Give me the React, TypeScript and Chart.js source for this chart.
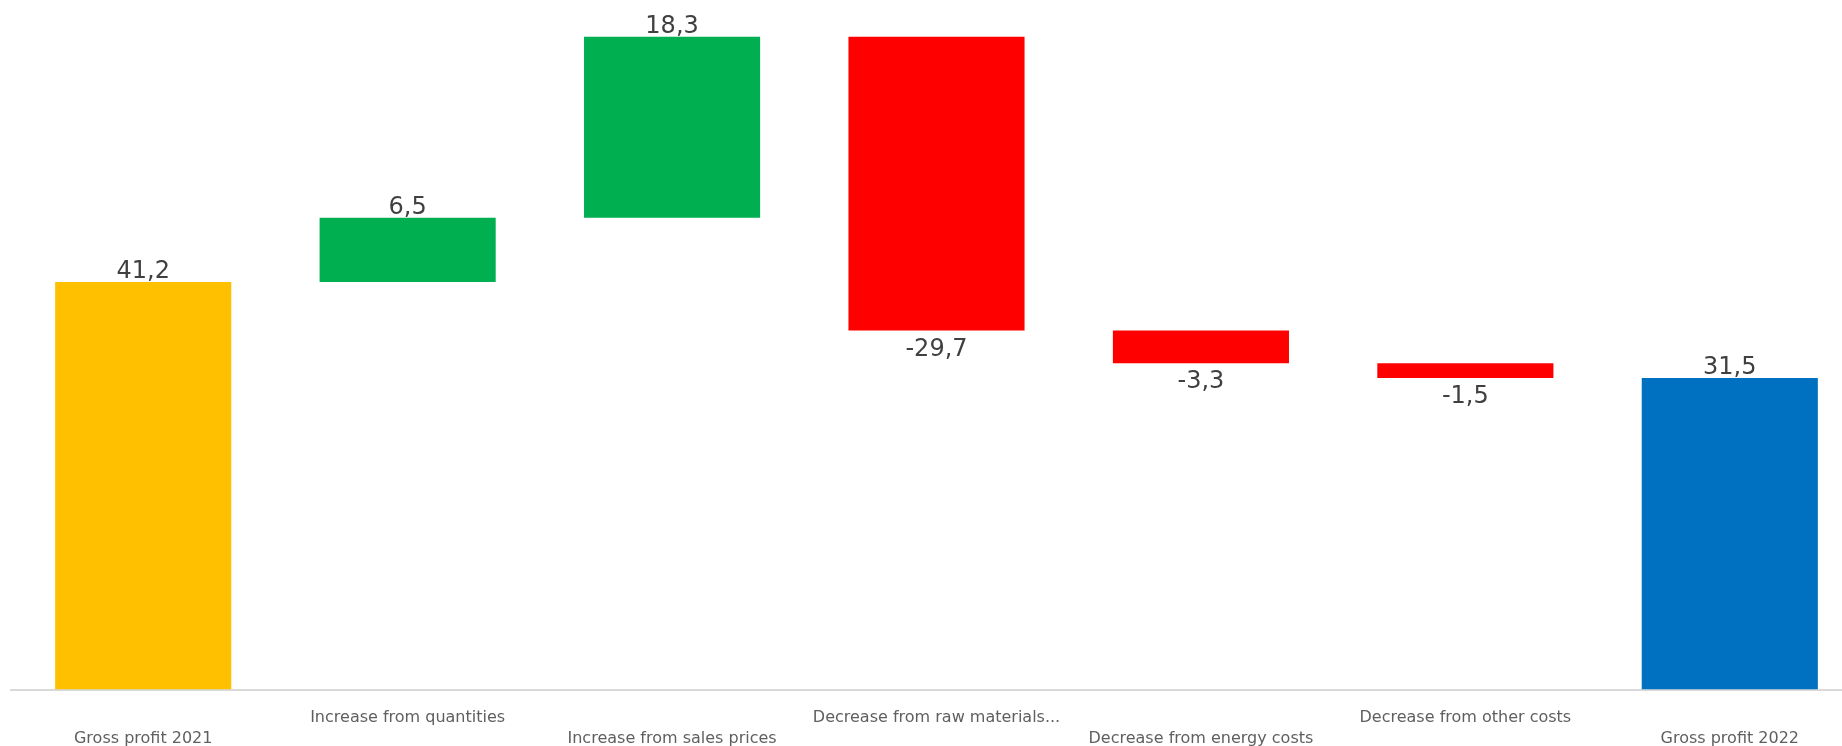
import React, { useEffect, useRef } from "react";
import { Chart, registerables } from "chart.js";

Chart.register(...registerables);

const categories = [
  "Gross profit 2021",
  "Increase from quantities",
  "Increase from sales prices",
  "Decrease from raw materials...",
  "Decrease from energy costs",
  "Decrease from other costs",
  "Gross profit 2022",
];
const values = [41.2, 6.5, 18.3, -29.7, -3.3, -1.5, 31.5];
const kinds = ["total", "delta", "delta", "delta", "delta", "delta", "total"];
const colorTotalStart = "#FFC000";
const colorTotalEnd = "#0070C0";
const colorUp = "#00B050";
const colorDown = "#FF0000";

function buildRanges(): [number, number][] {
  const out: [number, number][] = [];
  let running = 0;
  values.forEach((v, i) => {
    if (kinds[i] === "total") {
      out.push([0, v]);
      running = v;
    } else {
      out.push([running, running + v]);
      running += v;
    }
  });
  return out;
}

function fmt(v: number) {
  return v.toFixed(1).replace(".", ",");
}

const labelPlugin = {
  id: "wfLabels",
  afterDatasetsDraw(chart: any) {
    const ctx = chart.ctx;
    const meta = chart.getDatasetMeta(0);
    ctx.save();
    ctx.font = "24px 'DejaVu Sans'";
    ctx.fillStyle = "#404040";
    ctx.textAlign = "center";
    ctx.textBaseline = "alphabetic";
    meta.data.forEach((bar: any, i: number) => {
      const v = values[i];
      const top = Math.min(bar.y, bar.base);
      const bottom = Math.max(bar.y, bar.base);
      if (v >= 0) {
        ctx.fillText(fmt(v), bar.x, top - 4);
      } else {
        ctx.fillText(fmt(v), bar.x, bottom + 25);
      }
    });
    ctx.restore();
  },
};

export default function App() {
  const ref = useRef<HTMLCanvasElement | null>(null);
  useEffect(() => {
    if (!ref.current) return;
    const ranges = buildRanges();
    const colors = values.map((v, i) =>
      kinds[i] === "total" ? (i === 0 ? colorTotalStart : colorTotalEnd) : v >= 0 ? colorUp : colorDown
    );
    const chart = new Chart(ref.current, {
      type: "bar",
      data: {
        labels: categories,
        datasets: [
          {
            data: ranges as any,
            backgroundColor: colors,
            borderWidth: 0,
            categoryPercentage: 1,
            barPercentage: 0.666,
          },
        ],
      },
      options: {
        animation: false,
        responsive: false,
        maintainAspectRatio: false,
        layout: { padding: { left: 11, right: 0, top: 17, bottom: 11.5 } },
        plugins: { legend: { display: false }, tooltip: { enabled: false } },
        scales: {
          x: {
            grid: { display: false, drawTicks: false },
            border: { display: true, color: "#d9d9d9", width: 2 },
            ticks: {
              autoSkip: false,
              maxRotation: 0,
              minRotation: 0,
              padding: 17.5,
              color: "#5f5f5f",
              font: { family: "'DejaVu Sans'", size: 16, lineHeight: 1.3125 },
              callback: (_v: any, i: number) => (i % 2 === 0 ? ["", categories[i]] : categories[i]),
            },
          },
          y: {
            display: false,
            min: 0,
            max: 68,
          },
        },
      },
      plugins: [labelPlugin],
    });
    return () => chart.destroy();
  }, []);
  return (
    <div
      style={{
        position: "fixed",
        left: 0,
        top: 0,
        width: 1842,
        height: 746,
        overflow: "hidden",
        background: "#ffffff",
      }}
    >
      <canvas ref={ref} width={1862} height={778} style={{ width: 1862, height: 778, display: "block" }} />
    </div>
  );
}
